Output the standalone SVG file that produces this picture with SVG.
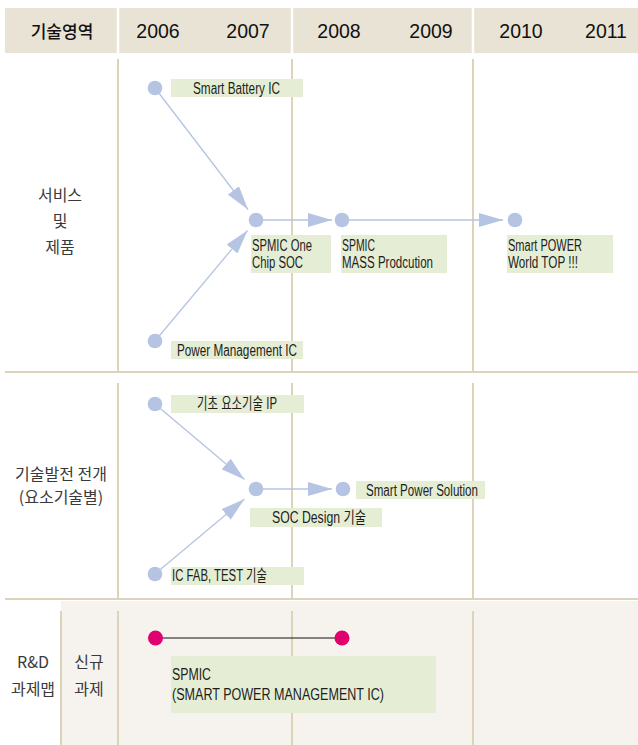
<svg xmlns="http://www.w3.org/2000/svg" width="638" height="745" viewBox="0 0 638 745">
  <style>
    .grid { stroke: #ddd3b8; stroke-width: 2; fill: none; }
    .sep { stroke: #ffffff; stroke-width: 2.5; }
    .hdr { font-family: "Liberation Sans", "Noto Sans CJK KR", sans-serif; font-size: 19.5px; fill: #111111; text-anchor: middle; }
    .hdr-k { font-family: "Noto Sans CJK KR", "Liberation Sans", sans-serif; font-size: 17px; font-weight: 500; fill: #111111; text-anchor: middle; }
    .side { font-family: "Noto Sans CJK KR", "Liberation Sans", sans-serif; font-size: 16px; fill: #3a3a3a; text-anchor: middle; }
    .box { fill: #e5eed5; }
    .lbl { font-family: "Liberation Sans", "Noto Sans CJK KR", sans-serif; font-size: 16px; fill: #1e1e1e; }
    .node { fill: #b5c4e3; }
    .pin { fill: #e0006e; }
    .flow { stroke: #b5c4e3; stroke-width: 1.3; fill: none; marker-end: url(#tri); }
  </style>
  <defs>
    <marker id="tri" markerUnits="userSpaceOnUse" markerWidth="24" markerHeight="14" refX="24" refY="7" orient="auto">
      <path d="M0,0 L24,7 L0,14 z" fill="#b5c4e3"/>
    </marker>
  </defs>

  <rect width="638" height="745" fill="#ffffff"/>

  <!-- header band -->
  <g id="header">
    <rect x="5" y="8" width="633" height="45" fill="#e9e3d5"/>
    <line class="sep" x1="118" y1="8" x2="118" y2="53"/>
    <line class="sep" x1="292" y1="8" x2="292" y2="53"/>
    <line class="sep" x1="473" y1="8" x2="473" y2="53"/>
    <text class="hdr-k" x="62" y="38">기술영역</text>
    <text class="hdr" x="158" y="38">2006</text>
    <text class="hdr" x="248" y="38">2007</text>
    <text class="hdr" x="339" y="38">2008</text>
    <text class="hdr" x="431" y="38">2009</text>
    <text class="hdr" x="521" y="38">2010</text>
    <text class="hdr" x="606" y="38">2011</text>
  </g>

  <!-- section backgrounds and grid -->
  <g id="grid">
    <rect x="61" y="601" width="577" height="144" fill="#f6f3ee"/>
    <line class="grid" x1="5" y1="372" x2="638" y2="372" stroke-width="2.5"/>
    <line class="grid" x1="5" y1="599" x2="638" y2="599" stroke-width="2.5"/>
    <line class="grid" x1="118" y1="59" x2="118" y2="372"/>
    <line class="grid" x1="292" y1="59" x2="292" y2="372"/>
    <line class="grid" x1="473" y1="59" x2="473" y2="372"/>
    <line class="grid" x1="118" y1="383" x2="118" y2="599"/>
    <line class="grid" x1="292" y1="383" x2="292" y2="599"/>
    <line class="grid" x1="473" y1="383" x2="473" y2="599"/>
    <line class="grid" x1="61" y1="611" x2="61" y2="745"/>
    <line class="grid" x1="118" y1="611" x2="118" y2="745"/>
    <line class="grid" x1="292" y1="611" x2="292" y2="745"/>
    <line class="grid" x1="473" y1="611" x2="473" y2="745"/>
  </g>

  <!-- row titles -->
  <g id="row-labels">
    <text class="side" x="60" y="201">서비스</text>
    <text class="side" x="60" y="227">및</text>
    <text class="side" x="60" y="253">제품</text>
    <text class="side" x="61" y="480">기술발전 전개</text>
    <text class="side" x="61" y="503">(요소기술별)</text>
    <text class="side" x="33" y="668">R&amp;D</text>
    <text class="side" x="33" y="695">과제맵</text>
    <text class="side" x="89" y="668">신규</text>
    <text class="side" x="89" y="695">과제</text>
  </g>

  <!-- connectors -->
  <g id="connectors">
    <line class="flow" x1="155" y1="88" x2="248" y2="209.5"/>
    <line class="flow" x1="155" y1="341" x2="247.5" y2="230.5"/>
    <line class="flow" x1="256" y1="220" x2="332" y2="220"/>
    <line class="flow" x1="342" y1="220" x2="503" y2="220"/>
    <line class="flow" x1="155" y1="404" x2="244.5" y2="479.5"/>
    <line class="flow" x1="155" y1="574" x2="244.5" y2="499"/>
    <line class="flow" x1="256" y1="489" x2="332" y2="489"/>
    <line x1="155" y1="638" x2="342" y2="638" stroke="#111111" stroke-width="1.2"/>
  </g>

  <!-- product nodes -->
  <g id="smart-battery-ic">
    <rect class="box" x="171" y="79" width="132" height="18"/>
    <text class="lbl" x="193" y="94" textLength="87" lengthAdjust="spacingAndGlyphs">Smart Battery IC</text>
    <circle class="node" cx="155" cy="88" r="7.3"/>
  </g>
  <g id="spmic-one-chip">
    <rect class="box" x="251" y="235" width="80" height="38"/>
    <text class="lbl" x="252" y="251" textLength="60" lengthAdjust="spacingAndGlyphs">SPMIC One</text>
    <text class="lbl" x="252" y="268" textLength="51" lengthAdjust="spacingAndGlyphs">Chip SOC</text>
    <circle class="node" cx="256" cy="220" r="7.3"/>
  </g>
  <g id="spmic-mass">
    <rect class="box" x="341" y="235" width="106" height="38"/>
    <text class="lbl" x="342" y="251" textLength="33" lengthAdjust="spacingAndGlyphs">SPMIC</text>
    <text class="lbl" x="342" y="268" textLength="91" lengthAdjust="spacingAndGlyphs">MASS Prodcution</text>
    <circle class="node" cx="342" cy="220" r="7.3"/>
  </g>
  <g id="smart-power-top">
    <rect class="box" x="507" y="235" width="106" height="38"/>
    <text class="lbl" x="508" y="251" textLength="74" lengthAdjust="spacingAndGlyphs">Smart POWER</text>
    <text class="lbl" x="508" y="268" textLength="70" lengthAdjust="spacingAndGlyphs">World TOP !!!</text>
    <circle class="node" cx="515" cy="220" r="7.3"/>
  </g>
  <g id="power-management-ic">
    <rect class="box" x="171" y="341" width="132" height="18"/>
    <text class="lbl" x="177" y="356" textLength="120" lengthAdjust="spacingAndGlyphs">Power Management IC</text>
    <circle class="node" cx="155" cy="341" r="7.3"/>
  </g>

  <!-- technology nodes -->
  <g id="basic-ip">
    <rect class="box" x="171" y="395" width="133" height="18"/>
    <text class="lbl" x="197" y="409" textLength="80" lengthAdjust="spacingAndGlyphs">기초 요소기술 IP</text>
    <circle class="node" cx="155" cy="404" r="7.3"/>
  </g>
  <g id="soc-design">
    <rect class="box" x="250" y="508" width="132" height="19"/>
    <text class="lbl" x="272" y="523" textLength="94" lengthAdjust="spacingAndGlyphs">SOC Design 기술</text>
    <circle class="node" cx="256" cy="489" r="7.3"/>
  </g>
  <g id="smart-power-solution">
    <rect class="box" x="356" y="481" width="129" height="18"/>
    <text class="lbl" x="366" y="496" textLength="112" lengthAdjust="spacingAndGlyphs">Smart Power Solution</text>
    <circle class="node" cx="343" cy="489" r="7.3"/>
  </g>
  <g id="ic-fab-test">
    <rect class="box" x="171" y="567" width="133" height="18"/>
    <text class="lbl" x="172" y="581" textLength="95" lengthAdjust="spacingAndGlyphs">IC FAB, TEST 기술</text>
    <circle class="node" cx="155" cy="574" r="7.3"/>
  </g>

  <!-- R&D task -->
  <g id="spmic-task">
    <rect class="box" x="171" y="656" width="265" height="57"/>
    <text class="lbl" x="172" y="680" textLength="39" lengthAdjust="spacingAndGlyphs">SPMIC</text>
    <text class="lbl" x="172" y="700" textLength="212" lengthAdjust="spacingAndGlyphs">(SMART POWER MANAGEMENT IC)</text>
    <circle class="pin" cx="155.5" cy="638" r="7.5"/>
    <circle class="pin" cx="342" cy="638" r="7.5"/>
  </g>
</svg>
